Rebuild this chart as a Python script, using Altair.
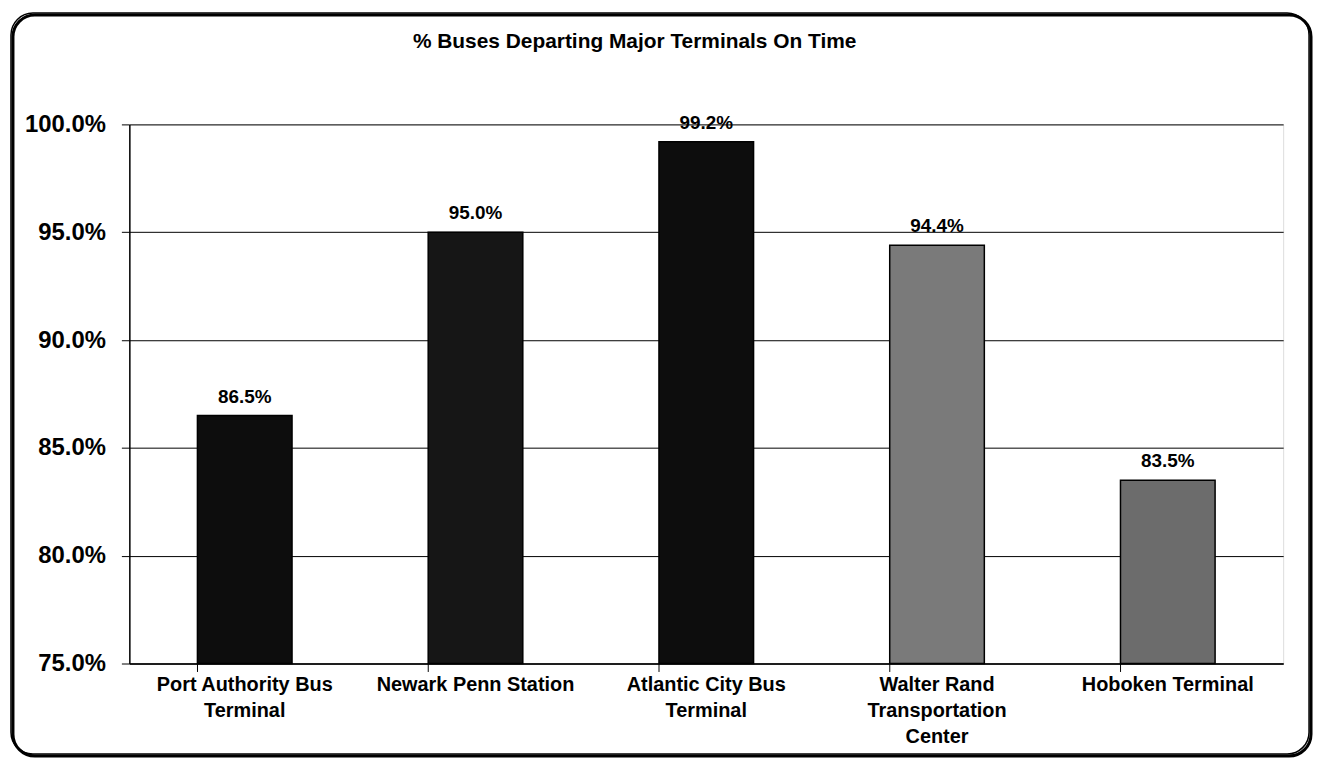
import json
import altair as alt
import pandas as pd

# ---- data ----
terminals = [
    "Port Authority Bus Terminal",
    "Newark Penn Station",
    "Atlantic City Bus Terminal",
    "Walter Rand Transportation Center",
    "Hoboken Terminal",
]
wrapped = [
    ["Port Authority Bus", "Terminal"],
    ["Newark Penn Station"],
    ["Atlantic City Bus", "Terminal"],
    ["Walter Rand", "Transportation", "Center"],
    ["Hoboken Terminal"],
]
on_time = [86.5, 95.0, 99.2, 94.4, 83.5]
bar_colors = ["#0d0d0d", "#161616", "#0d0d0d", "#7a7a7a", "#6c6c6c"]
y_ticks = [75, 80, 85, 90, 95, 100]

df = pd.DataFrame({"terminal": terminals, "pct": on_time, "color": bar_colors})
label_map = json.dumps(dict(zip(terminals, wrapped)))

FONT = "Liberation Sans"
W, H = 1160, 542

x = alt.X(
    "terminal:N",
    sort=terminals,
    title=None,
    scale=alt.Scale(paddingInner=0.59, paddingOuter=0.295),
    axis=alt.Axis(
        labelAngle=0,
        labelExpr=f"{label_map}[datum.label]",
        labelFont=FONT,
        labelFontSize=20,
        labelFontWeight="bold",
        labelColor="#000",
        labelLineHeight=26,
        labelBaseline="top",
        labelPadding=3,
        labelLimit=400,
        tickSize=8,
        tickColor="#000",
        bandPosition=0,
        domainColor="#000",
        domainWidth=1.5,
        grid=False,
    ),
)
y = alt.Y(
    "pct:Q",
    title=None,
    scale=alt.Scale(domain=[75, 100], zero=False, nice=False),
    axis=alt.Axis(
        values=y_ticks,
        labelExpr="format(datum.value, '.1f') + '%'",
        labelFont=FONT,
        labelFontSize=24,
        labelFontWeight="bold",
        labelColor="#000",
        labelPadding=16,
        tickSize=8,
        tickColor="#000",
        domainColor="#000",
        domainWidth=1.5,
        grid=True,
        gridColor="#000",
        gridWidth=1,
    ),
)

bars = alt.Chart(df).mark_bar(stroke="#000", strokeWidth=1.5).encode(
    x=x,
    y=y,
    y2=alt.datum(75),
    color=alt.Color("color:N", scale=None),
)

labels = (
    alt.Chart(df)
    .transform_calculate(lbl="format(datum.pct, '.1f') + '%'")
    .mark_text(baseline="bottom", dy=-9, font=FONT, fontSize=19, fontWeight="bold", color="#000")
    .encode(
        x=alt.X("terminal:N", sort=terminals),
        y=alt.Y("pct:Q"),
        text="lbl:N",
    )
)

shadow = alt.Chart(alt.Data(values=[{"k": 1}])).mark_rect(
    fill="transparent", stroke="#000", strokeWidth=3, cornerRadius=22
).encode(
    x=alt.value(-117), x2=alt.value(1188), y=alt.value(-110), y2=alt.value(635)
)
frame = alt.Chart(alt.Data(values=[{"k": 1}])).mark_rect(
    fill="transparent", stroke="#000", strokeWidth=1.5, cornerRadius=22
).encode(
    x=alt.value(-119), x2=alt.value(1186), y=alt.value(-112), y2=alt.value(633)
)

chart = (
    alt.layer(shadow, frame, bars, labels)
    .properties(
        width=W,
        height=H,
        autosize=alt.AutoSizeParams(type="none"),
        padding={"left": 122, "top": 115, "right": 32, "bottom": 98},
        title=alt.Title(
            "% Buses Departing Major Terminals On Time",
            font=FONT,
            fontSize=21,
            fontWeight="bold",
            color="#000",
            anchor="middle",
            dx=-72,
            offset=0,
            dy=40,
        ),
    )
    .configure_view(stroke="#000", strokeWidth=1.5)
    .configure(background="white")
)

chart.save("out.html", embed_options={"renderer": "svg", "actions": False})
